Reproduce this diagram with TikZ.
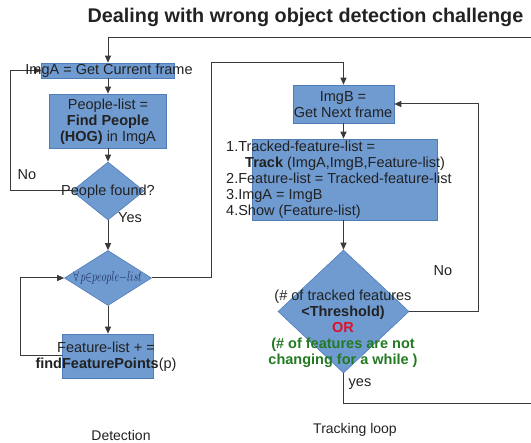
\documentclass[tikz,border=0pt]{standalone}
\usepackage{fontspec}
\usepackage{graphicx}
\setmainfont{Liberation Sans}
\usetikzlibrary{arrows.meta,shapes.geometric}
\definecolor{boxfill}{HTML}{6F9BD1}
\definecolor{boxline}{HTML}{4F7DB8}
\definecolor{ink}{HTML}{222222}
\definecolor{wirecol}{HTML}{3A3A3A}
\definecolor{orred}{HTML}{E0102A}
\definecolor{darkgrn}{HTML}{237A23}
\definecolor{mathblue}{HTML}{1C2C5C}
\begin{document}
\begin{tikzpicture}[x=1pt,y=-1pt,
  blk/.style={rectangle, fill=boxfill, draw=boxline, line width=0.6pt, inner sep=0pt},
  dia/.style={diamond, fill=boxfill, draw=boxline, line width=0.6pt, inner sep=0pt},
  txt/.style={inner sep=0pt, text=ink, font=\fontsize{14.5}{16}\selectfont, align=center},
  wire/.style={draw=wirecol, line width=1pt},
  arr/.style={wire, -{Triangle[length=7pt,width=6pt]}},
]
\useasboundingbox (0,0) rectangle (531,443);

% title
\node[inner sep=0pt, text=ink, font=\fontsize{19.8}{22}\selectfont\bfseries] (title) at (305.5,17)
  {Dealing with wrong object detection challenge};

% detection column: shapes
\node[blk, minimum width=133pt, minimum height=15pt] (imga) at (108,70.5) {};
\node[blk, minimum width=117pt, minimum height=54pt] (people) at (108,121) {};
\node[dia, minimum width=72pt, minimum height=58pt] (found) at (108,191) {};
\node[dia, minimum width=87pt, minimum height=55pt] (forall) at (108,278) {};
\node[blk, minimum width=91pt, minimum height=44pt] (feat) at (108,356) {};

% tracking column: shapes
\node[blk, minimum width=101pt, minimum height=38pt] (imgb) at (343.5,104) {};
\node[blk, minimum width=185pt, minimum height=81pt] (track) at (344.5,179.5) {};
\node[dia, minimum width=131pt, minimum height=123pt] (dec) at (343.5,311.5) {};

% loose ends of the outer loop
\coordinate (inR) at (531,38);
\coordinate (outR) at (531,404);

% connectors
\draw[arr] (inR) -- (108,38) -- (imga.north);
\draw[arr] (imga.south) -- (people.north);
\draw[arr] (people.south) -- (found.north);
\draw[arr] (found.west) -- (10,191) |- (imga.west);
\draw[arr] (found.south) -- (forall.north);
\draw[arr] (forall.south) -- (feat.north);
\draw[arr] (feat.west) -- (20,356) |- (forall.west);
\draw[arr] (forall.east) -- (211,278) |- (imgb.north |- 0,63) -- (imgb.north);
\draw[arr] (imgb.south) -- (imgb.south |- track.north);
\draw[arr] (dec.north |- track.south) -- (dec.north);
\draw[arr] (dec.east) -- (478,311.5) |- (imgb.east);
\draw[wire] (dec.south) -- (dec.south |- outR) -- (outR);

% texts
\node[txt] (imgaT) at (109,70.5) {ImgA = Get Current frame};
\node[txt] (peopleT) at (108,122) {People-list =\\ \textbf{Find People}\\ \textbf{(HOG)} in ImgA};
\node[txt] (foundT) at (108,192) {People found?};
\node[inner sep=0pt, text=mathblue, font=\fontsize{14.5}{16}\selectfont] (forallT) at (107.5,278)
  {\scalebox{0.7}[1]{$\forall\,p{\in}people{-}list$}};
\node[txt] (featT) at (106,357) {Feature-list + =\\ \textbf{findFeaturePoints}(p)};
\node[txt] (imgbT) at (343,104.5) {ImgB =\\ Get Next frame};
\node[txt, align=left, anchor=west] (trackT) at (226,180)
  {1.Tracked-feature-list =\\
   \hspace*{19pt}\textbf{Track} (ImgA,ImgB,Feature-list)\\
   2.Feature-list = Tracked-feature-list\\
   3.ImgA = ImgB\\
   4.Show (Feature-list)};
\node[txt] (decT) at (343,328.5)
  {(\# of tracked features\\
   \textbf{<Threshold)}\\
   \textcolor{orred}{\textbf{OR}}\\
   \textcolor{darkgrn}{\textbf{(\# of features are not}}\\
   \textcolor{darkgrn}{\textbf{changing for a while )}}};

% branch labels
\node[txt] (noL) at (27,175) {No};
\node[txt] (yesL) at (130,218) {Yes};
\node[txt] (noR) at (443,271) {No};
\node[txt] (yesR) at (360,384) {yes};

% column captions
\node[txt, font=\fontsize{14}{16}\selectfont] (detcap) at (121,435) {Detection};
\node[txt, font=\fontsize{14}{16}\selectfont] (trkcap) at (355,430) {Tracking loop};
\end{tikzpicture}
\end{document}
